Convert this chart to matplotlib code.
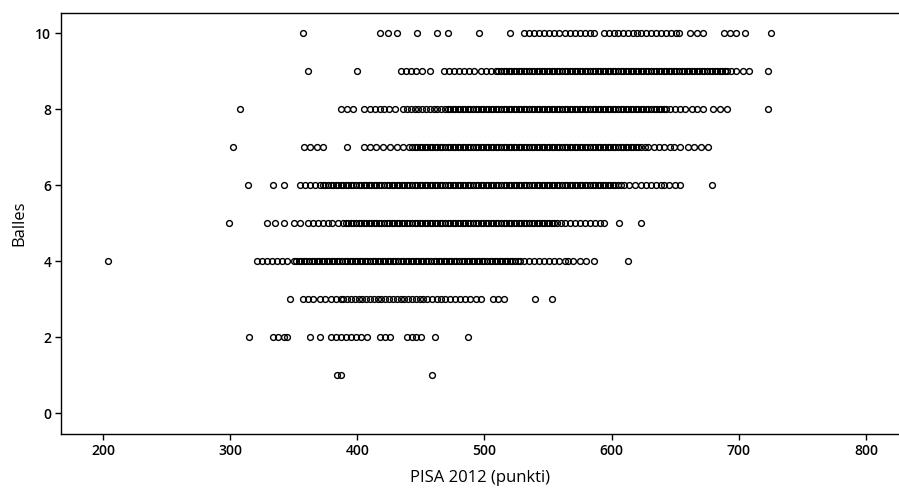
import matplotlib
matplotlib.use("Agg")
import matplotlib.pyplot as plt

plt.rcParams['font.family'] = ['Open Sans', 'DejaVu Sans']

# PISA 2012 score of each pupil, grouped by "Balles" (grade 1-10)
balles_levels = [10, 9, 8, 7, 6, 5, 4, 3, 2, 1]

pisa_10 = [357, 418, 424, 431, 447, 463, 471, 496, 520, 531, 535, 539, 543, 547, 551,
           555, 559, 563, 567, 571, 575, 579, 583, 586, 594, 598, 602, 605, 609, 613,
           617, 620, 623, 627, 631, 635, 639, 643, 647, 651, 653, 662, 667, 672, 688,
           693, 698, 705, 725]
pisa_9 = [361, 400, 434, 438, 442, 446, 451, 457, 468, 472, 476, 480, 484, 488, 492,
          497, 501, 505, 509, 511, 513, 515, 517, 519, 521, 523, 525, 527, 529, 531,
          533, 535, 537, 539, 541, 543, 545, 547, 549, 551, 553, 555, 557, 559, 561,
          563, 565, 567, 569, 571, 573, 575, 577, 579, 581, 583, 585, 587, 589, 591,
          593, 595, 597, 599, 601, 603, 605, 607, 609, 611, 613, 615, 617, 619, 621,
          623, 625, 627, 629, 631, 633, 635, 637, 639, 641, 643, 645, 647, 649, 651,
          653, 655, 657, 659, 661, 663, 665, 667, 669, 671, 673, 675, 677, 679, 681,
          683, 685, 687, 689, 691, 694, 698, 703, 708, 723]
pisa_8 = [308, 387, 392, 397, 405, 410, 414, 418, 421, 425, 430, 436, 439, 442, 445,
          448, 451, 454, 457, 460, 463, 466, 469, 471, 473, 475, 477, 479, 481, 483,
          485, 487, 489, 491, 493, 495, 497, 499, 501, 503, 505, 507, 509, 511, 513,
          515, 517, 519, 521, 523, 525, 527, 529, 531, 533, 535, 537, 539, 541, 543,
          545, 547, 549, 551, 553, 555, 557, 559, 561, 563, 565, 567, 569, 571, 573,
          575, 577, 579, 581, 583, 585, 587, 589, 591, 593, 595, 597, 599, 601, 603,
          605, 607, 609, 611, 613, 615, 617, 619, 621, 623, 625, 627, 629, 631, 633,
          635, 637, 639, 641, 643, 646, 650, 654, 658, 663, 667, 672, 680, 685, 691,
          723]
pisa_7 = [302, 358, 363, 368, 373, 392, 405, 410, 415, 420, 426, 431, 436, 441, 443,
          445, 447, 449, 451, 453, 455, 457, 459, 461, 463, 465, 467, 469, 471, 473,
          475, 477, 479, 481, 483, 485, 487, 489, 491, 493, 495, 497, 499, 501, 503,
          505, 507, 509, 511, 513, 515, 517, 519, 521, 523, 525, 527, 529, 531, 533,
          535, 537, 539, 541, 543, 545, 547, 549, 551, 553, 555, 557, 559, 561, 563,
          565, 567, 569, 571, 573, 575, 577, 579, 581, 583, 585, 587, 589, 591, 593,
          595, 597, 599, 601, 603, 605, 607, 609, 611, 613, 615, 617, 619, 621, 623,
          626, 629, 633, 637, 641, 646, 649, 654, 660, 665, 670, 676]
pisa_6 = [314, 334, 342, 355, 359, 363, 367, 371, 373, 375, 377, 379, 381, 383, 385,
          387, 389, 391, 393, 395, 397, 399, 401, 403, 405, 407, 409, 411, 413, 415,
          417, 419, 421, 423, 425, 427, 429, 431, 433, 435, 437, 439, 441, 443, 445,
          447, 449, 451, 453, 455, 457, 459, 461, 463, 465, 467, 469, 471, 473, 475,
          477, 479, 481, 483, 485, 487, 489, 491, 493, 495, 497, 499, 501, 503, 505,
          507, 509, 511, 513, 515, 517, 519, 521, 523, 525, 527, 529, 531, 533, 535,
          537, 539, 541, 543, 545, 547, 549, 551, 553, 555, 557, 559, 561, 563, 565,
          567, 569, 571, 573, 575, 577, 579, 581, 583, 585, 587, 589, 591, 593, 595,
          597, 599, 601, 603, 605, 607, 610, 614, 618, 623, 627, 631, 635, 639, 641,
          645, 650, 654, 679]
pisa_5 = [299, 329, 335, 342, 350, 355, 361, 365, 369, 373, 377, 380, 385, 389, 391,
          393, 395, 397, 399, 401, 403, 405, 407, 409, 411, 413, 415, 417, 419, 421,
          423, 425, 427, 429, 431, 433, 435, 437, 439, 441, 443, 445, 447, 449, 451,
          453, 455, 457, 459, 461, 463, 465, 467, 469, 471, 473, 475, 477, 479, 481,
          483, 485, 487, 489, 491, 493, 495, 497, 499, 501, 503, 505, 507, 509, 511,
          513, 515, 517, 519, 521, 523, 525, 527, 529, 531, 533, 535, 537, 539, 541,
          543, 545, 547, 549, 551, 553, 555, 557, 560, 563, 567, 571, 575, 579, 583,
          587, 591, 594, 606, 623]
pisa_4 = [204, 321, 325, 329, 333, 337, 341, 345, 350, 352, 354, 356, 358, 360, 362,
          364, 366, 368, 370, 372, 374, 376, 378, 380, 382, 384, 386, 388, 390, 392,
          394, 396, 398, 400, 402, 404, 406, 408, 410, 412, 414, 416, 418, 420, 422,
          424, 426, 428, 430, 432, 434, 436, 438, 440, 442, 444, 446, 448, 450, 452,
          454, 456, 458, 460, 462, 464, 466, 468, 470, 472, 474, 476, 478, 480, 482,
          484, 486, 488, 490, 492, 494, 496, 498, 500, 502, 504, 506, 508, 510, 512,
          514, 516, 518, 520, 522, 524, 526, 528, 531, 535, 539, 543, 547, 551, 555,
          559, 563, 566, 570, 575, 580, 586, 613]
pisa_3 = [347, 357, 361, 365, 371, 375, 379, 383, 387, 389, 392, 395, 398, 401, 404,
          407, 410, 413, 416, 419, 422, 425, 428, 431, 434, 437, 440, 443, 446, 449,
          452, 455, 459, 463, 466, 469, 473, 477, 481, 485, 489, 493, 497, 507, 511,
          515, 540, 553]
pisa_2 = [315, 334, 338, 342, 345, 363, 371, 379, 383, 387, 391, 395, 399, 403, 408,
          418, 422, 426, 439, 443, 446, 450, 461, 487]
pisa_1 = [384, 387, 459]

scores = [pisa_10, pisa_9, pisa_8, pisa_7, pisa_6, pisa_5, pisa_4, pisa_3, pisa_2, pisa_1]

fig = plt.figure(figsize=(8.99, 4.96), dpi=100)
ax = fig.add_axes([61 / 899, 0.125, 1 - 61 / 899, 0.849])

for level, xs in zip(balles_levels, scores):
    ax.plot(xs, [level] * len(xs), linestyle='none', marker='o', markersize=4.2,
            markerfacecolor='none', markeredgecolor='black', markeredgewidth=1.0)

ax.set_xlim(167, 826)
ax.set_ylim(-0.545, 10.53)
ax.set_xticks([200, 300, 400, 500, 600, 700, 800])
ax.set_yticks([0, 2, 4, 6, 8, 10])
ax.tick_params(direction='out', length=4, width=1, labelsize=10, pad=3)
for lab in ax.get_xticklabels() + ax.get_yticklabels():
    lab.set_fontweight('semibold')
ax.spines['right'].set_visible(False)
for s in ['left', 'bottom', 'top']:
    ax.spines[s].set_linewidth(1.0)

ax.set_xlabel('PISA 2012 (punkti)', fontsize=12, labelpad=9)
ax.set_ylabel('Balles', fontsize=12, labelpad=6)

fig.savefig('out.png', dpi=100)
